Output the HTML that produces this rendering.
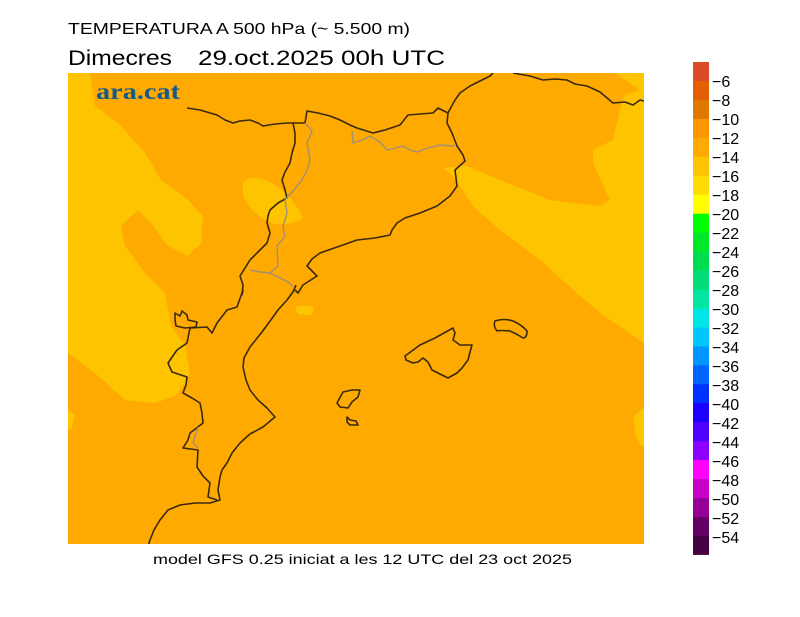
<!DOCTYPE html>
<html><head><meta charset="utf-8"><style>
html,body{margin:0;padding:0;background:#fff;width:800px;height:617px;overflow:hidden}
svg{display:block}
text{font-family:"Liberation Sans","DejaVu Sans",sans-serif;fill:#000}
</style></head><body>
<svg width="800" height="617" viewBox="0 0 800 617" xmlns="http://www.w3.org/2000/svg">
<rect width="800" height="617" fill="#fff"/>
<text x="68" y="34" font-size="16" textLength="342" lengthAdjust="spacingAndGlyphs">TEMPERATURA A 500 hPa (~ 5.500 m)</text>
<text x="68" y="65" font-size="21" textLength="104" lengthAdjust="spacingAndGlyphs">Dimecres</text>
<text x="198" y="65" font-size="21" textLength="247" lengthAdjust="spacingAndGlyphs">29.oct.2025 00h UTC</text>
<defs><clipPath id="m"><rect x="68" y="73" width="576" height="471"/></clipPath></defs>
<g clip-path="url(#m)">
<rect x="68" y="73" width="576" height="471" fill="#ffaa00"/>
<g fill="#ffc400">
<path d="M68,73 L90,73 95,106 118,123 145,153 161,180 188,200 203,216 201,243 188,256 168,246 151,223 138,210 121,226 125,246 145,273 165,293 171,326 185,346 190,373 185,383 175,396 155,403 125,400 95,373 68,353Z"/>
<path d="M68,410 L75,415 72,428 68,430Z"/>
<path d="M243,182 Q250,175 265,180 Q290,190 303,218 Q295,225 275,224 Q250,215 243,195Z"/>
<path d="M295,307 Q305,304 314,307 L312,315 298,314Z"/>
<path d="M443,168 L467,166 500,180 550,200 600,206 610,200 593,163 593,150 613,140 620,110 625,95 640,90 615,73 644,73 644,343 600,313 577,293 540,260 500,230 473,206 453,176Z"/>
<path d="M644,408 L634,416 635,433 640,445 644,446Z"/>
</g>
<g fill="none" stroke="#3a2a10" stroke-width="1.6" stroke-linejoin="round">
<polyline points="187,108 200,110 217,115 225,120 233,123 240,121 250,120 258,123 263,126 275,124 287,123 305,123 307,111 318,113 330,116 340,120 350,125 357,128 373,133 385,130 400,125 408,115 420,114 433,113 438,108 448,113"/>
<polyline points="448,113 449,111 455,100 460,93 470,86 490,76 493,73"/>
<polyline points="513,73 530,76 543,80 555,79 567,80 575,84 587,86 600,92 613,103 625,102 633,105 640,100 644,101"/>
<polyline points="448,113 447,123 452,133 457,146 463,155 465,161 455,170 457,186 450,196 437,206 420,213 405,218 397,223 392,230 390,235 375,238 357,240 340,246 320,253 312,259 307,266 317,276 303,285 298,293 295,290"/>
<polyline points="296,285 293,292 287,300 278,310 273,317 262,332 250,347 244,358 243,367 246,380 250,390 258,400 267,408 275,417 263,427 250,434 240,443 232,453 227,463 222,470 220,477 218,490 220,500 210,503 195,503 180,505 168,510 160,520 154,530 150,540 148,546"/>
<polyline points="293,123 295,133 295,143 292,153 290,163 285,172 282,180 285,190 287,198 278,203 270,210 268,216 267,223 270,233 267,243 260,250 250,260 245,268 240,276 243,285 242,295 243,290"/>
<polyline points="243,290 237,307 227,310 217,323 212,333 207,327 190,328 187,343 177,350 168,363 172,372 187,377 186,385 183,393 192,398 200,403 202,413 203,423 190,433 188,440 183,448 198,450 197,467 203,476 210,483 208,497 217,500"/>
<path d="M175,313 L180,316 182,311 187,315 188,320 197,322 196,327 185,328 176,326 175,320Z"/>
<path d="M405,356 L420,345 435,338 453,328 455,333 453,340 460,345 472,345 470,352 468,360 462,368 457,373 448,378 440,374 432,370 428,362 423,358 418,362 413,363 406,360Z"/>
<path d="M495,321 Q504,318 513,321 Q522,325 527,331 Q527,338 523,338 Q517,334 510,331 Q500,330 497,331 Q493,326 495,321Z"/>
<path d="M337,403 L343,392 352,390 360,390 358,397 352,402 348,408 340,407Z"/>
<path d="M347,417 L350,420 356,421 358,425 350,425 347,422Z"/>
</g>
<g fill="none" stroke="#a09078" stroke-width="1.4">
<polyline points="305,123 312,131 307,143 310,160 307,170 302,180 292,192 285,200 287,213 283,226 285,236 277,246 278,266 270,273 260,272 250,270"/>
<polyline points="270,273 280,278 288,282 293,286"/>
<polyline points="352,131 353,143 362,140 370,136 380,142 387,150 395,148 403,146 410,150 417,152 428,148 440,145 455,146"/>
<polyline points="198,427 193,443 198,448"/>
</g>
</g>
<text x="96" y="99" font-weight="bold" font-size="23" style="fill:#155a8c;font-family:'Liberation Serif',serif" textLength="84" lengthAdjust="spacingAndGlyphs">ara.cat</text>
<text x="153" y="564" font-size="14" textLength="419" lengthAdjust="spacingAndGlyphs">model GFS 0.25 iniciat a les 12 UTC del 23 oct 2025</text>
<g>
<rect x="693" y="62.0" width="16" height="19.5" fill="#dc4b28"/>
<rect x="693" y="81.0" width="16" height="19.5" fill="#e45f00"/>
<rect x="693" y="99.9" width="16" height="19.5" fill="#e07800"/>
<rect x="693" y="118.9" width="16" height="19.5" fill="#ff9600"/>
<rect x="693" y="137.8" width="16" height="19.5" fill="#ffaa00"/>
<rect x="693" y="156.8" width="16" height="19.5" fill="#ffc400"/>
<rect x="693" y="175.8" width="16" height="19.5" fill="#ffdc00"/>
<rect x="693" y="194.7" width="16" height="19.5" fill="#ffff00"/>
<rect x="693" y="213.7" width="16" height="19.5" fill="#00ff00"/>
<rect x="693" y="232.6" width="16" height="19.5" fill="#00e628"/>
<rect x="693" y="251.6" width="16" height="19.5" fill="#00dc50"/>
<rect x="693" y="270.5" width="16" height="19.5" fill="#00dc78"/>
<rect x="693" y="289.5" width="16" height="19.5" fill="#00e6a0"/>
<rect x="693" y="308.5" width="16" height="19.5" fill="#00e6e6"/>
<rect x="693" y="327.4" width="16" height="19.5" fill="#00c8ff"/>
<rect x="693" y="346.4" width="16" height="19.5" fill="#0096ff"/>
<rect x="693" y="365.3" width="16" height="19.5" fill="#0064ff"/>
<rect x="693" y="384.3" width="16" height="19.5" fill="#0032ff"/>
<rect x="693" y="403.2" width="16" height="19.5" fill="#1e00ff"/>
<rect x="693" y="422.2" width="16" height="19.5" fill="#5000ff"/>
<rect x="693" y="441.2" width="16" height="19.5" fill="#8c00ff"/>
<rect x="693" y="460.1" width="16" height="19.5" fill="#ff00ff"/>
<rect x="693" y="479.1" width="16" height="19.5" fill="#c800c8"/>
<rect x="693" y="498.0" width="16" height="19.5" fill="#960096"/>
<rect x="693" y="517.0" width="16" height="19.5" fill="#640064"/>
<rect x="693" y="535.9" width="16" height="19.0" fill="#460046"/>
</g>
<g font-size="16">
<text x="712" y="87">−6</text>
<text x="712" y="106">−8</text>
<text x="712" y="125">−10</text>
<text x="712" y="144">−12</text>
<text x="712" y="163">−14</text>
<text x="712" y="182">−16</text>
<text x="712" y="201">−18</text>
<text x="712" y="220">−20</text>
<text x="712" y="239">−22</text>
<text x="712" y="258">−24</text>
<text x="712" y="277">−26</text>
<text x="712" y="296">−28</text>
<text x="712" y="315">−30</text>
<text x="712" y="334">−32</text>
<text x="712" y="353">−34</text>
<text x="712" y="372">−36</text>
<text x="712" y="391">−38</text>
<text x="712" y="410">−40</text>
<text x="712" y="429">−42</text>
<text x="712" y="448">−44</text>
<text x="712" y="467">−46</text>
<text x="712" y="486">−48</text>
<text x="712" y="505">−50</text>
<text x="712" y="524">−52</text>
<text x="712" y="543">−54</text>
</g>
</svg>
</body></html>
